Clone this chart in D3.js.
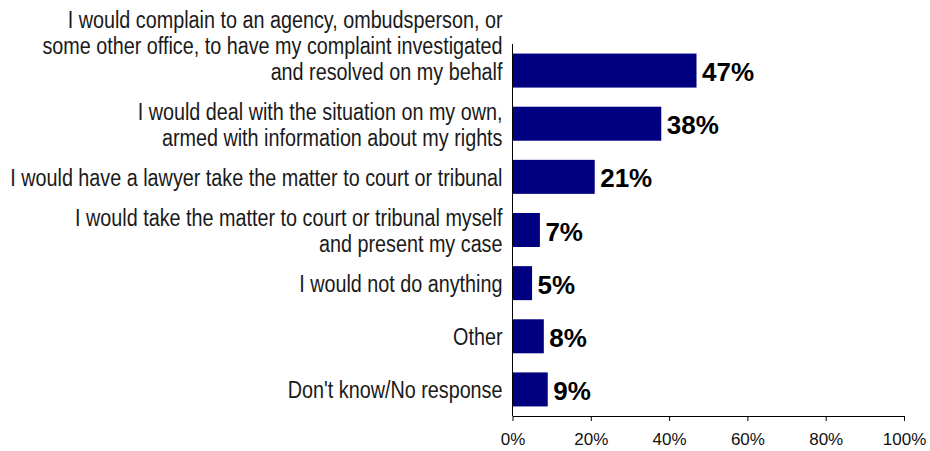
<!DOCTYPE html>
<html>
<head>
<meta charset="utf-8">
<script src="https://cdn.jsdelivr.net/npm/d3@7"></script>
<style>
  html, body { margin: 0; padding: 0; background: #fff; }
  svg { display: block; font-family: "Liberation Sans", Arial, sans-serif; }
</style>
</head>
<body>
<svg id="chart" width="930" height="451"></svg>
<script>
// Survey responses: what people would do with an unresolved complaint
const categories = [
  "I would complain to an agency, ombudsperson, or\nsome other office, to have my complaint investigated\nand resolved on my behalf",
  "I would deal with the situation on my own,\narmed with information about my rights",
  "I would have a lawyer take the matter to court or tribunal",
  "I would take the matter to court or tribunal myself\nand present my case",
  "I would not do anything",
  "Other",
  "Don't know/No response"
];
const values = [47, 38, 21, 7, 5, 8, 9];
const xTicks = [0, 20, 40, 60, 80, 100];

const svg = d3.select("#chart");
const plotLeft = 512.5, plotRight = 904, plotTop = 44, plotBottom = 416;

const x = d3.scaleLinear().domain([0, 100]).range([plotLeft, plotRight]);
const y = d3.scaleBand().domain(d3.range(categories.length))
  .range([plotTop, plotBottom]).paddingInner(0.36).paddingOuter(0.18);

// bars
svg.append("g").selectAll("rect").data(values).join("rect")
  .attr("x", x(0))
  .attr("y", (d, i) => y(i))
  .attr("width", d => x(d) - x(0))
  .attr("height", y.bandwidth())
  .attr("fill", "#000080");

// value labels
svg.append("g").selectAll("text").data(values).join("text")
  .attr("x", d => x(d) + 5.5)
  .attr("y", (d, i) => y(i) + y.bandwidth() / 2 + 10.5)
  .attr("font-size", 26)
  .attr("font-weight", "bold")
  .attr("fill", "#000")
  .text(d => d + "%");

// x axis
const xAxis = d3.axisBottom(x).tickValues(xTicks).tickFormat(d => d + "%")
  .tickSizeInner(5).tickSizeOuter(0).tickPadding(12);
const gx = svg.append("g").attr("transform", `translate(0,${plotBottom})`).call(xAxis);
gx.select(".domain").attr("stroke", "#000");
gx.selectAll(".tick line").attr("stroke", "#000");
gx.selectAll(".tick text").attr("font-size", 17).attr("fill", "#111")
  .attr("font-family", "Liberation Sans, Arial, sans-serif");

// y axis line (no ticks, labels drawn separately for wrapping)
svg.append("line")
  .attr("x1", plotLeft).attr("x2", plotLeft).attr("y1", plotTop).attr("y2", plotBottom)
  .attr("stroke", "#000").attr("stroke-width", 1);

// category labels, wrapped on "\n", condensed horizontally
const lh = 26;
const labelG = svg.append("g");
categories.forEach((c, i) => {
  const lines = c.split("\n");
  const cy = y(i) + y.bandwidth() / 2;
  const start = lines.length > 2 ? -(lines.length - 1) * lh : -(lines.length - 1) / 2 * lh;
  lines.forEach((ln, j) => {
    labelG.append("text")
      .attr("transform", `translate(${plotLeft - 10},${cy + start + j * lh + 9}) scale(0.86,1)`)
      .attr("text-anchor", "end")
      .attr("font-size", 23)
      .attr("fill", "#1a1a1a")
      .text(ln);
  });
});
</script>
</body>
</html>
